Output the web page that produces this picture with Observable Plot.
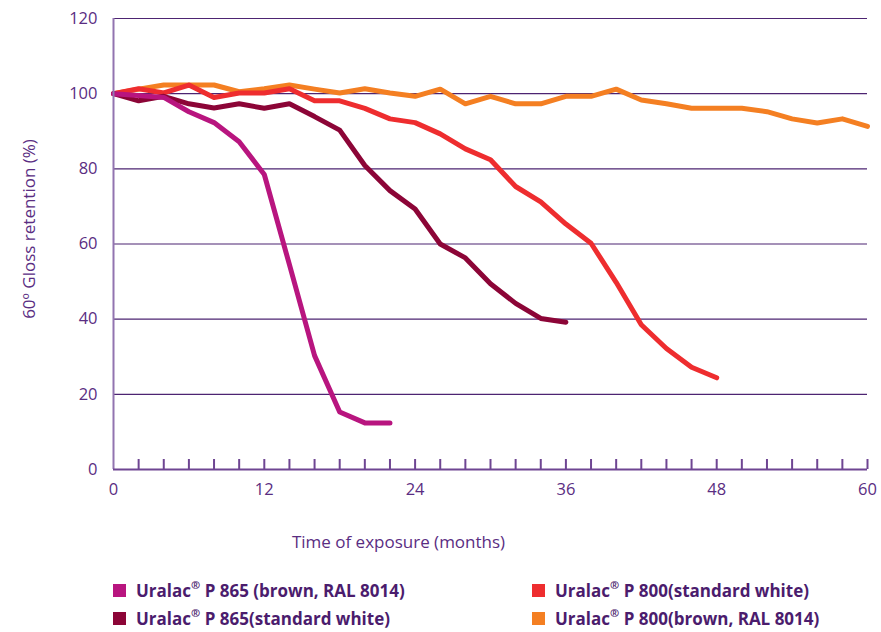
<!DOCTYPE html>
<html>
<head>
<meta charset="utf-8">
<script src="https://cdn.jsdelivr.net/npm/d3@7"></script>
<script src="https://cdn.jsdelivr.net/npm/@observablehq/plot@0.6"></script>
<style>
  html, body { margin: 0; padding: 0; background: #fff; }
  body { width: 881px; height: 632px; position: relative; font-family: "Open Sans", "Noto Sans", sans-serif; }
  #chart { position: absolute; left: 0; top: 0; }
  .legend { position: absolute; left: 0; top: 0; width: 881px; }
  .item { position: absolute; display: flex; align-items: center; font-weight: 700; font-size: 17px; color: #4b1c6d; white-space: nowrap; }
  .sw { width: 13px; height: 13px; margin-right: 10px; }
  sup { font-size: 0.65em; position: relative; top: -0.1em; }
</style>
</head>
<body>
<div id="chart"></div>
<div class="legend" id="legend"></div>
<script>
const months = [0, 2, 4, 6, 8, 10, 12, 14, 16, 18, 20, 22, 24, 26, 28, 30, 32, 34, 36, 38, 40, 42, 44, 46, 48, 50, 52, 54, 56, 58, 60];

const seriesNames = [
  "Uralac® P 865 (brown, RAL 8014)",
  "Uralac® P 865(standard white)",
  "Uralac® P 800(standard white)",
  "Uralac® P 800(brown, RAL 8014)"
];
const seriesColors = ["#b8157f", "#8c0537", "#ee2d2f", "#f47f22"];

// gloss retention values, one per 2-month step from month 0
const p865Brown = [100, 99.5, 99, 95.2, 92.3, 87.2, 78.5, 54.5, 30.3, 15.3, 12.4, 12.4];
const p865White = [100, 98.1, 99.3, 97.3, 96.2, 97.3, 96.1, 97.3, 93.9, 90.3, 80.9, 74.2, 69.3, 60.0, 56.3, 49.4, 44.2, 40.2, 39.2];
const p800White = [100, 101.3, 100.2, 102.3, 99.0, 100.2, 100.2, 101.3, 98.1, 98.1, 96.1, 93.3, 92.3, 89.3, 85.3, 82.4, 75.3, 71.2, 65.3, 60.2, 49.8, 38.5, 32.2, 27.2, 24.4];
const p800Brown = [100, 101.2, 102.3, 102.3, 102.3, 100.5, 101.3, 102.3, 101.2, 100.2, 101.3, 100.2, 99.3, 101.2, 97.3, 99.3, 97.3, 97.3, 99.3, 99.3, 101.2, 98.3, 97.3, 96.1, 96.1, 96.1, 95.2, 93.3, 92.2, 93.3, 91.3];

const yTicks = [0, 20, 40, 60, 80, 100, 120];
const xLabelTicks = [0, 12, 24, 36, 48, 60];
const xMinorTicks = [2, 4, 6, 8, 10, 12, 14, 16, 18, 20, 22, 24, 26, 28, 30, 32, 34, 36, 38, 40, 42, 44, 46, 48, 50, 52, 54, 56, 58, 60];

const xTitle = "Time of exposure (months)";
const yTitle = "60º Gloss retention (%)";

const allSeries = [p865Brown, p865White, p800White, p800Brown];
const rows = [];
allSeries.forEach((vals, s) => vals.forEach((v, i) => rows.push({series: seriesNames[s], month: months[i], value: v})));

const purple = "#5a2d82";
const font = "'Open Sans', 'Noto Sans', sans-serif";

const drawOrder = [3, 2, 1, 0];

const chart = Plot.plot({
  width: 881,
  height: 560,
  marginLeft: 113,
  marginRight: 14,
  marginTop: 18,
  marginBottom: 91,
  style: {fontFamily: font, fontSize: "15px", color: purple, background: "white"},
  x: {domain: [0, 60], label: null},
  y: {domain: [0, 120], label: null},
  marks: [
    Plot.ruleY(yTicks.filter(d => d > 0), {stroke: "#4d2472", strokeWidth: 1.1}),
    Plot.axisY({ticks: yTicks, tickSize: 0, tickPadding: 16, fontSize: 16.5, fill: purple, label: null}),
    Plot.axisX({ticks: xMinorTicks, tickSize: -10, tickFormat: () => "", stroke: "#6e4592", strokeWidth: 2, label: null}),
    Plot.axisX({ticks: xLabelTicks, tickSize: 0, tickPadding: 14, fontSize: 16.5, fill: purple, label: null}),
    ...drawOrder.map(s => Plot.line(rows.filter(r => r.series === seriesNames[s]), {
      x: "month", y: "value", stroke: seriesColors[s], strokeWidth: 5,
      strokeLinejoin: "round", strokeLinecap: "round"
    })),
    Plot.ruleX([0], {stroke: "#9274b0", strokeWidth: 2}),
    Plot.ruleY([0], {stroke: "#6e4592", strokeWidth: 2}),
    Plot.text([xTitle], {frameAnchor: "bottom", textAnchor: "middle", lineAnchor: "middle", dx: -92, dy: 73, fill: purple, fontSize: 17, text: d => d}),
    Plot.text([yTitle], {frameAnchor: "left", textAnchor: "middle", lineAnchor: "middle", dx: -84, dy: -15, rotate: -90, fill: purple, fontSize: 17, text: d => d})
  ]
});
document.getElementById("chart").appendChild(chart);

// legend (HTML, below the SVG)
const legendPos = [
  {left: 113, top: 590},
  {left: 113, top: 618},
  {left: 532, top: 590},
  {left: 532, top: 618}
];
const legend = document.getElementById("legend");
seriesNames.forEach((name, i) => {
  const item = document.createElement("div");
  item.className = "item";
  item.style.left = legendPos[i].left + "px";
  item.style.top = (legendPos[i].top - 11) + "px";
  item.style.height = "22px";
  const sw = document.createElement("span");
  sw.className = "sw";
  sw.style.background = seriesColors[i];
  item.appendChild(sw);
  const t = document.createElement("span");
  t.innerHTML = name.replace("®", "<sup>®</sup>");
  item.appendChild(t);
  legend.appendChild(item);
});
</script>
</body>
</html>
